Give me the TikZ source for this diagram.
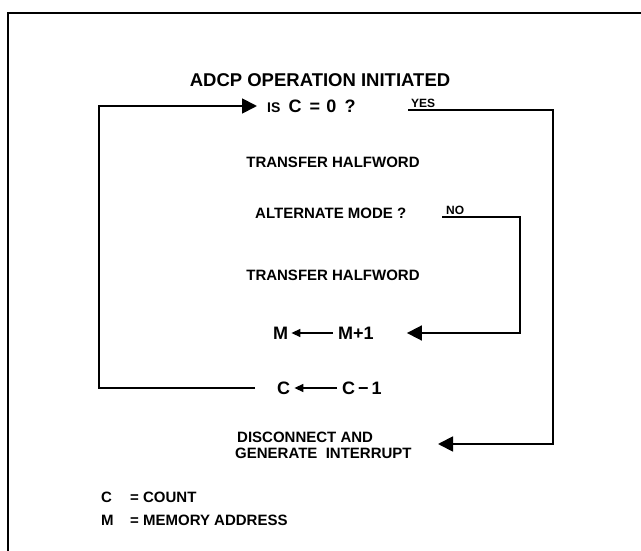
\documentclass[tikz,border=0pt]{standalone}
\usepackage{fontspec}
\setmainfont{Liberation Sans}
\usetikzlibrary{arrows.meta}
\begin{document}
\begin{tikzpicture}[x=1pt,y=-1pt,
  lbl/.style={font=\bfseries\fontsize{15}{17}\selectfont, inner sep=0pt},
  big/.style={font=\bfseries\fontsize{18}{20}\selectfont, inner sep=0pt},
  tag/.style={font=\bfseries\fontsize{12}{14}\selectfont, inner sep=0pt},
  flow/.style={line width=1.8pt},
  bigarrow/.style={flow, -{Triangle[length=15pt,width=15pt]}},
  smallarrow/.style={line width=1.4pt, -{Triangle[length=9pt,width=8pt]}}]
\useasboundingbox (0,0) rectangle (641,551);

% page frame
\draw[line width=1.6pt] (641,13) -- (8,13) -- (8,551);

% helper coordinates for the vertical runs
\coordinate (loopx) at (99,0);
\coordinate (yesx) at (553,0);
\coordinate (nox) at (520,0);

% flow text
\node[lbl, font=\bfseries\fontsize{18.5}{20}\selectfont] (title) at (320,80) {ADCP OPERATION INITIATED};
\node[big, anchor=west] (test) at (267,106)
  {{\fontsize{14}{16}\selectfont IS}\hspace{0.45em}C\hspace{0.45em}=\hspace{0.35em}0\hspace{0.45em}?};
\node[tag, anchor=south west] (yes) at (411,108) {YES};
\node[lbl] (xfer1) at (333,162) {TRANSFER HALFWORD};
\node[lbl, anchor=west] (alt) at (255,213) {ALTERNATE MODE ?};
\node[tag, anchor=south west] (no) at (446,215) {NO};
\node[lbl] (xfer2) at (333,275) {TRANSFER HALFWORD};
\node[big, anchor=west] (mA) at (273,333) {M};
\node[big, anchor=west] (mB) at (338,333) {M+1};
\node[big, anchor=west] (cA) at (277,388) {C};
\node[big, anchor=west] (cB) at (342,388) {C\,−\,1};
\node[lbl, anchor=west] (disc) at (237,437) {DISCONNECT AND};
\node[lbl, anchor=west] (gen) at (235,453) {GENERATE\ \ INTERRUPT};
\coordinate (done) at (438,444);

% legend
\node[lbl, anchor=west] (legC) at (101,497) {C};
\node[lbl, anchor=west] (legCt) at (130,497) {=\ COUNT};
\node[lbl, anchor=west] (legM) at (101,520) {M};
\node[lbl, anchor=west] (legMt) at (130,520) {=\ MEMORY\ ADDRESS};

% assignments
\draw[smallarrow] ([xshift=-5pt]mB.west) -- ([xshift=3pt]mA.east);
\draw[smallarrow] ([xshift=-5pt]cB.west) -- ([xshift=4pt]cA.east);

% connectors
\draw[bigarrow] ([xshift=-22pt]cA.west) -- (cA.west -| loopx)
  -- (test.west -| loopx) -- ([xshift=-10pt]test.west);
\draw[bigarrow] ([shift={(-3pt,-2pt)}]yes.south west) -- ([yshift=-2pt]yes.south west -| yesx)
  -- (done -| yesx) -- (done);
\draw[bigarrow] ([shift={(-4pt,-2pt)}]no.south west) -- ([yshift=-2pt]no.south west -| nox)
  -- (mB.east -| nox) -- ([xshift=33pt]mB.east);
\end{tikzpicture}
\end{document}
